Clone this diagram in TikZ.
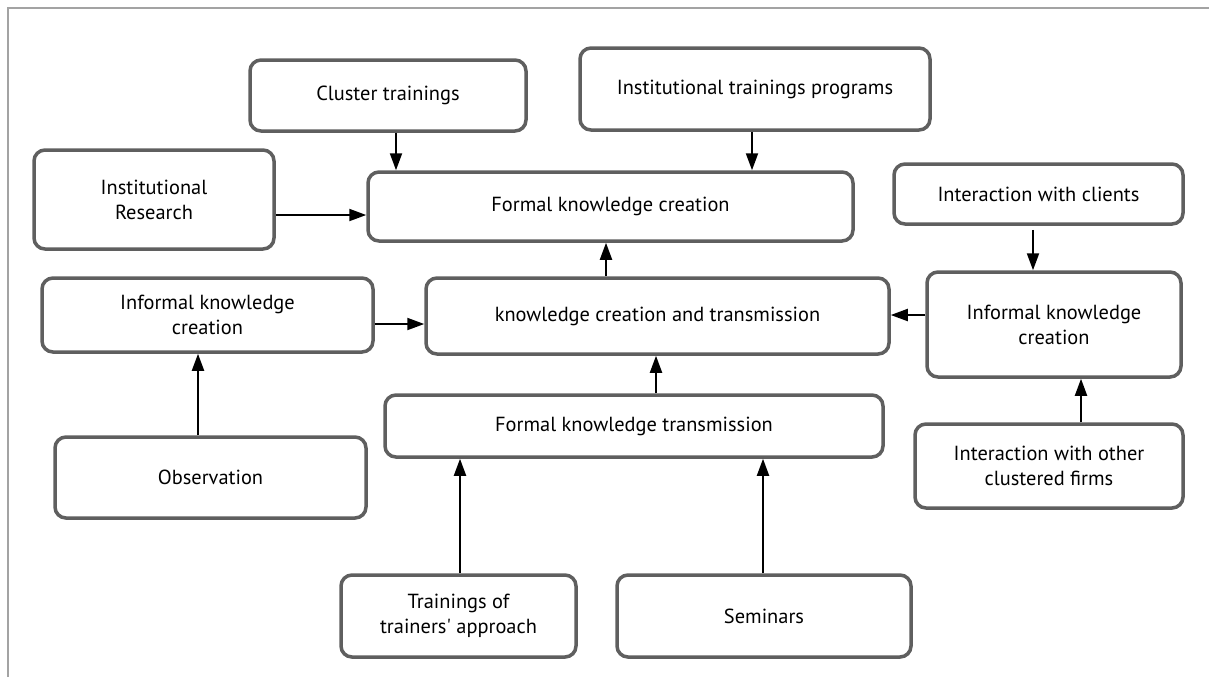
\documentclass[tikz,border=0pt]{standalone}
\usepackage{fontspec}
\setmainfont{PT Sans}[Ligatures=TeXOff]
\usetikzlibrary{arrows.meta}
\definecolor{boxline}{HTML}{5F5F5F}
\definecolor{frameline}{HTML}{A3A3A3}
\tikzset{
  kbox/.style={draw=boxline, line width=1.75pt, rounded corners=5.5pt, fill=white,
    align=center, inner sep=0pt, font=\fontsize{10.2}{12.5}\selectfont},
  arr/.style={draw=black, line width=1pt, -{Triangle[length=8.5pt,width=6pt]}},
}
\begin{document}
\begin{tikzpicture}[x=0.5pt, y=-0.5pt]
  \useasboundingbox (0,0) rectangle (1209,677);
  % partial frame: top and left rules
  \draw[frameline, line width=1pt] (8,677) -- (8,8) -- (1209,8);

  % boxes
  \node[kbox, minimum width=276pt*0.5, minimum height=71pt*0.5] (cluster) at (388,95.5) {Cluster trainings};
  \node[kbox, minimum width=350pt*0.5, minimum height=82pt*0.5] (itp) at (755,89) {Institutional trainings programs};
  \node[kbox, minimum width=240pt*0.5, minimum height=99pt*0.5] (ir) at (154,199.5) {Institutional\\Research};
  \node[kbox, minimum width=485pt*0.5, minimum height=69pt*0.5] (formal) at (610.5,206.5) {Formal knowledge creation};
  \node[kbox, minimum width=463pt*0.5, minimum height=76pt*0.5] (kct) at (657.5,316) {knowledge creation and transmission};
  \node[kbox, minimum width=289pt*0.5, minimum height=60pt*0.5] (clients) at (1038.5,194) {Interaction with clients};
  \node[kbox, minimum width=254pt*0.5, minimum height=105pt*0.5] (infR) at (1054,324.5) {Informal knowledge\\creation};
  \node[kbox, minimum width=268pt*0.5, minimum height=84pt*0.5] (firms) at (1049,466) {Interaction with other\\clustered firms};
  \node[kbox, minimum width=331pt*0.5, minimum height=74pt*0.5] (infL) at (207.5,315) {Informal knowledge\\creation};
  \node[kbox, minimum width=311pt*0.5, minimum height=81pt*0.5] (obs) at (210.5,477.5) {Observation};
  \node[kbox, minimum width=498pt*0.5, minimum height=62pt*0.5] (fkt) at (634,426) {Formal knowledge transmission};
  \node[kbox, minimum width=235pt*0.5, minimum height=82pt*0.5] (tta) at (458.5,616) {Trainings of\\trainers' approach};
  \node[kbox, minimum width=294pt*0.5, minimum height=82pt*0.5] (sem) at (764,616) {Seminars};

  % connectors
  \draw[arr] (cluster.south -| 396,0) -- (formal.north -| 396,0);
  \draw[arr] (itp.south -| 752,0) -- (formal.north -| 752,0);
  \draw[arr] (ir.east |- 0,215) -- (formal.west |- 0,215);
  \draw[arr] (kct.north -| 606,0) -- (formal.south -| 606,0);
  \draw[arr] (infL.east |- 0,324) -- (kct.west |- 0,324);
  \draw[arr] (infR.west |- 0,315) -- (kct.east |- 0,315);
  \draw[arr] ([yshift=-2pt]clients.south -| 1033,0) -- (infR.north -| 1033,0);
  \draw[arr] (firms.north -| 1081,0) -- (infR.south -| 1081,0);
  \draw[arr] (obs.north -| 198,0) -- (infL.south -| 198,0);
  \draw[arr] (fkt.north -| 656,0) -- (kct.south -| 656,0);
  \draw[arr] (tta.north -| 460,0) -- (fkt.south -| 460,0);
  \draw[arr] (sem.north -| 763,0) -- (fkt.south -| 763,0);
\end{tikzpicture}
\end{document}
